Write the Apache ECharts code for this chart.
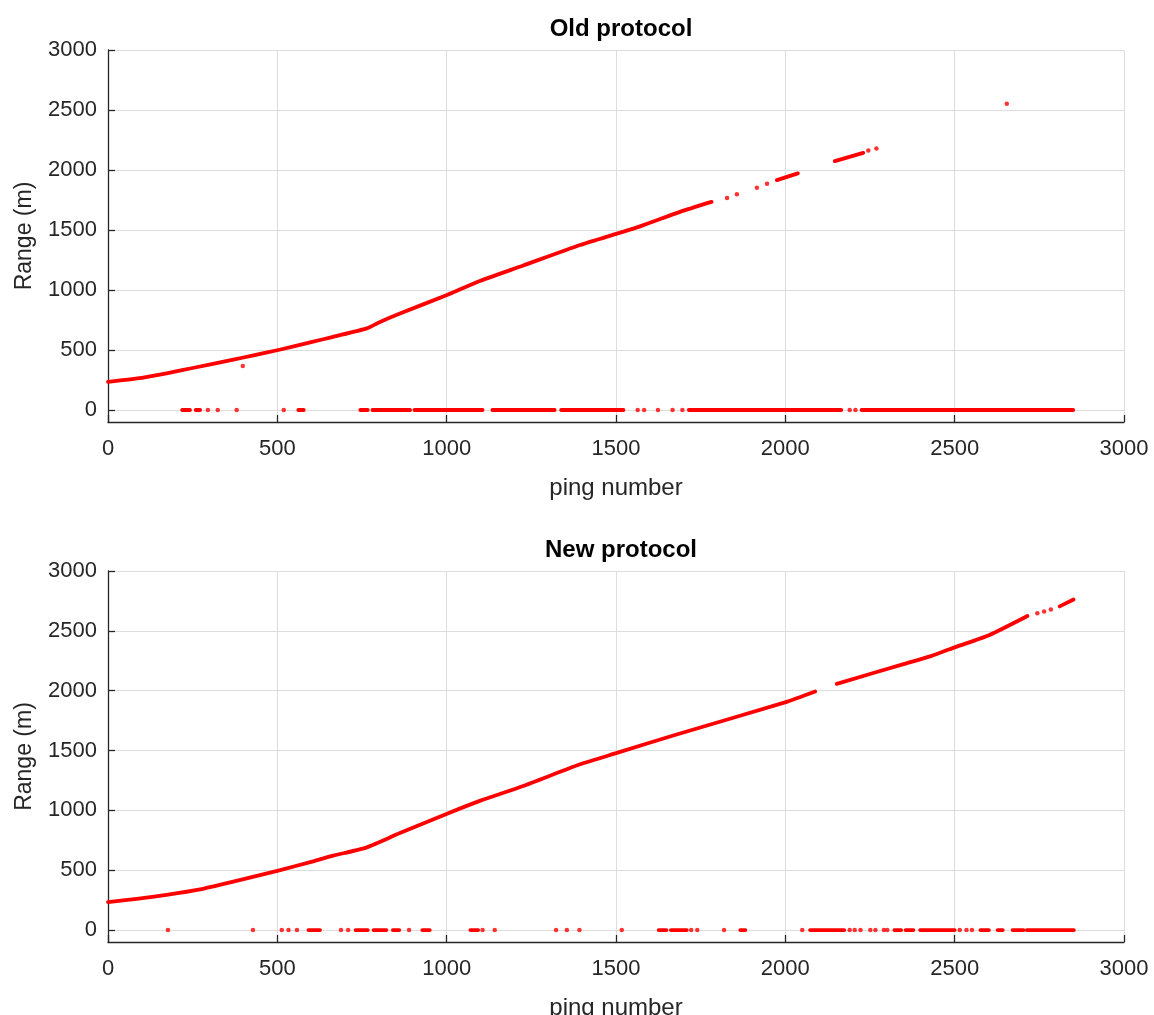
<!DOCTYPE html>
<html><head><meta charset="utf-8">
<script src="https://cdn.jsdelivr.net/npm/echarts@6/dist/echarts.min.js"></script>
<style>html,body{margin:0;padding:0;background:#fff}#c{width:1154px;height:1015px}</style>
</head><body><div id="c"></div>
<script>
// ---------- data ----------
const titles = ['Old protocol', 'New protocol'];
const xTicks = [0, 500, 1000, 1500, 2000, 2500, 3000];
const yTicks = [0, 500, 1000, 1500, 2000, 2500, 3000];

// continuous (dense) parts of the range track; null = break
const oldCurvePing  = [0,100,173,250,370,430,503,600,665,764,800,862,1003,1098,1226,1394,1505,1571,1689,1782,null,1975,2037,null,2146,2230];
const oldCurveRange = [235,268,305,350,420,455,500,565,610,680,730,804,961,1075,1204,1375,1472,1530,1651,1734,null,1916,1972,null,2074,2143];
// isolated points of the track
const oldDotPing  = [398,1828,1857,1916,1946,2245,2269,2654];
const oldDotRange = [367,1767,1798,1853,1886,2162,2179,2552];
// zero-range returns: dense runs [start,end] and single pings
const oldZeroRuns = [[219,242],[259,272],[562,578],[745,767],[781,892],[905,1106],[1135,1319],[1338,1522],[1715,2165],[2225,2850]];
const oldZeroDots = [295,324,380,519,1564,1583,1624,1667,1696,2190,2207];

const newCurvePing  = [0,85,173,272,370,503,600,665,764,862,1003,1098,1226,1394,1505,1679,2004,2088,null,2152,2349,2430,2504,2603,2715,null,2810,2851];
const newCurveRange = [233,261,294,340,405,496,570,621,691,810,974,1079,1204,1385,1482,1634,1907,1993,null,2057,2222,2289,2366,2466,2624,null,2704,2762];
const newDotPing  = [2744,2764,2784];
const newDotRange = [2647,2661,2679];
const newZeroRuns = [[592,626],[731,767],[784,822],[841,860],[928,950],[1070,1093],[1626,1649],[1662,1709],[1867,1882],[2073,2174],[2322,2342],[2355,2378],[2398,2500],[2576,2601],[2627,2642],[2671,2703],[2713,2852]];
const newZeroDots = [177,428,513,533,558,688,709,889,1106,1142,1323,1355,1392,1517,1722,1740,1819,2050,2190,2205,2222,2251,2266,2291,2301,2515,2535,2551];

// ---------- build ----------
const RED = '#ff0000', INK = '#262626', GRID = '#dddddd';
const FONT = 'Liberation Sans, Arial, Helvetica, sans-serif';

function splitSegments(p, r) {
  const segs = []; let cur = [];
  for (let i = 0; i < p.length; i++) {
    if (p[i] === null) { if (cur.length) segs.push(cur); cur = []; }
    else cur.push([p[i], r[i]]);
  }
  if (cur.length) segs.push(cur);
  return segs;
}
function lineSeries(data, gi) {
  return { type: 'line', xAxisIndex: gi, yAxisIndex: gi, data: data, symbol: 'none', showSymbol: false,
    smooth: 0.2,
    silent: true, animation: false, z: 3,
    lineStyle: { color: RED, width: 3.8, cap: 'round', join: 'round' } };
}
function dotSeries(data, gi) {
  return { type: 'scatter', xAxisIndex: gi, yAxisIndex: gi, data: data, symbol: 'circle', symbolSize: 4.5,
    silent: true, animation: false, z: 4, itemStyle: { color: RED } };
}
function buildSeries(gi, cp, cr, dp, dr, runs, zdots) {
  const s = [];
  splitSegments(cp, cr).forEach(seg => s.push(lineSeries(seg, gi)));
  runs.forEach(run => s.push(lineSeries([[run[0], 0], [run[1], 0]], gi)));
  s.push(dotSeries(dp.map((p, i) => [p, dr[i]]).concat(zdots.map(p => [p, 0])), gi));
  return s;
}

const grids = [
  { left: 108, right: 30, top: 50, height: 372, outerBoundsMode: 'none', containLabel: false },
  { left: 108, right: 30, top: 571, height: 371, outerBoundsMode: 'none', containLabel: false }
];
const plain = v => String(v);
function xAxis(gi) {
  return { type: 'value', gridIndex: gi, min: 0, max: 3000, interval: 500,
    name: 'ping number', nameLocation: 'middle', nameGap: 54,
    nameTextStyle: { fontSize: 24, color: INK, fontFamily: FONT },
    axisLine: { show: true, onZero: false, lineStyle: { color: INK, width: 1.3 } },
    axisTick: { show: true, inside: true, length: 7, lineStyle: { color: INK, width: 1.3 } },
    axisLabel: { fontSize: 22, color: INK, margin: 16, fontFamily: FONT, formatter: plain },
    splitLine: { show: true, lineStyle: { color: GRID, width: 1 } } };
}
function yAxis(gi) {
  return { type: 'value', gridIndex: gi, min: -100, max: 3000,
    name: 'Range (m)', nameLocation: 'middle', nameGap: 72,
    nameTextStyle: { fontSize: 23, color: INK, fontFamily: FONT },
    axisLine: { show: true, onZero: false, lineStyle: { color: INK, width: 1.3 } },
    axisTick: { show: true, inside: true, length: 7, customValues: yTicks, lineStyle: { color: INK, width: 1.3 } },
    axisLabel: { fontSize: 22, color: INK, margin: 11, fontFamily: FONT, customValues: yTicks, formatter: plain },
    splitLine: { show: true, lineStyle: { color: GRID, width: 1 } } };
}

const option = {
  backgroundColor: '#fff',
  animation: false,
  title: titles.map((t, i) => ({ text: t, left: 616, top: i === 0 ? 12 : 533, textAlign: 'center',
    textStyle: { fontSize: 24, fontWeight: 'bold', color: '#000', fontFamily: FONT } })),
  grid: grids,
  xAxis: [xAxis(0), xAxis(1)],
  yAxis: [yAxis(0), yAxis(1)],
  series: buildSeries(0, oldCurvePing, oldCurveRange, oldDotPing, oldDotRange, oldZeroRuns, oldZeroDots)
    .concat(buildSeries(1, newCurvePing, newCurveRange, newDotPing, newDotRange, newZeroRuns, newZeroDots))
};
const chart = echarts.init(document.getElementById('c'), null, { renderer: 'canvas' });
chart.setOption(option);
</script></body></html>
